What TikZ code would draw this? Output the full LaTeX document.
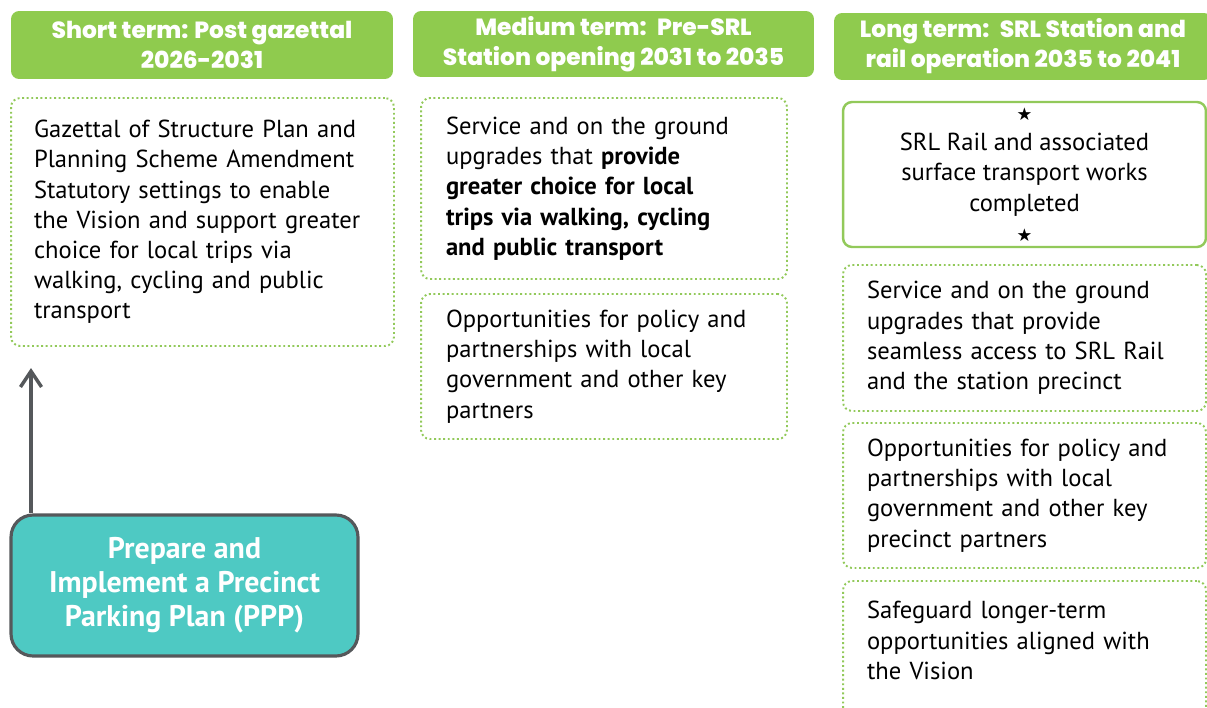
\documentclass[tikz,border=0pt]{standalone}
\usepackage{fontspec}
\setmainfont{PT Sans}
\newfontfamily\symfont{DejaVu Sans}
\IfFontExistsTF{Poppins ExtraBold}{\newfontfamily\headfont{Poppins ExtraBold}}{\newfontfamily\headfont{Poppins}[UprightFont=*-Bold]}
\usetikzlibrary{arrows.meta}
\definecolor{hdgreen}{HTML}{8FCB4E}
\definecolor{dotgreen}{HTML}{92C95A}
\definecolor{pppteal}{HTML}{4EC9C3}
\definecolor{darkgrey}{HTML}{55585B}
\tikzset{
	header/.style={fill=hdgreen, rounded corners=0.16cm, text=white, align=center, inner sep=0pt,
		font=\headfont\fontsize{13.3}{17}\selectfont},
	dotbox/.style={draw=dotgreen, line width=1.1pt, dash pattern=on 1.1pt off 1.5pt, rounded corners=0.18cm,
		align=left, inner sep=0pt, font=\fontsize{14}{17.2}\selectfont},
	solidbox/.style={draw=dotgreen, line width=1.4pt, rounded corners=0.18cm,
		align=center, inner sep=0pt, font=\fontsize{14}{17.2}\selectfont},
	pppbox/.style={draw=darkgrey, fill=pppteal, line width=1.8pt, rounded corners=0.44cm, text=white,
		align=center, inner sep=0pt, font=\bfseries\fontsize{17}{19.3}\selectfont}
}
\newcommand{\blackstar}{{\symfont\fontsize{10}{10}\selectfont ★}}

\begin{document}
\begin{tikzpicture}[x=0.02cm,y=-0.02cm]
	\useasboundingbox (0,0) rectangle (1207,707);
	\node[header, minimum width=7.64cm, minimum height=1.36cm] (short) at (202,45)
		{Short term: Post gazettal\\2026-2031};
	\node[header, minimum width=8.02cm, minimum height=1.32cm] (medium) at (613.5,44)
		{Medium term:~ Pre-SRL\\Station opening 2031 to 2035};
	\node[header, minimum width=7.56cm, minimum height=1.34cm] (long) at (1023,46.5)
		{Long term:~ SRL Station and\\rail operation 2035 to 2041};
	\node[dotbox, minimum width=7.66cm, minimum height=4.96cm, text width=6.74cm] (gazettal) at (202.5,222)
		{Gazettal of Structure Plan and\\Planning Scheme Amendment\\Statutory settings to enable\\the Vision and support greater\\choice for local trips via\\walking, cycling and public\\transport};
	\node[dotbox, minimum width=7.32cm, minimum height=3.62cm, text width=6.32cm] (choice) at (604,188.5)
		{Service and on the ground\\upgrades that \textbf{provide}\\\textbf{greater choice for local}\\\textbf{trips via walking, cycling}\\\textbf{and public transport}};
	\node[dotbox, minimum width=7.32cm, minimum height=2.9cm, text width=6.32cm] (policy) at (604,366.5)
		{Opportunities for policy and\\partnerships with local\\government and other key\\partners};
	\node[solidbox, minimum width=7.26cm, minimum height=2.9cm] (works) at (1024.5,174.5)
		{\blackstar\\SRL Rail and associated\\surface transport works\\completed\\\blackstar};
	\node[dotbox, minimum width=7.26cm, minimum height=2.92cm, text width=6.3cm] (access) at (1024.5,338)
		{Service and on the ground\\upgrades that provide\\seamless access to SRL Rail\\and the station precinct};
	\node[dotbox, minimum width=7.26cm, minimum height=2.9cm, text width=6.3cm] (partners) at (1024.5,495.5)
		{Opportunities for policy and\\partnerships with local\\government and other key\\precinct partners};
	\node[dotbox, minimum width=7.26cm, minimum height=2.98cm, text width=6.3cm] (safeguard) at (1024.5,655.5)
		{Safeguard longer-term\\opportunities aligned with\\the Vision\\\mbox{}};
	\node[pppbox, minimum width=6.94cm, minimum height=2.82cm] (ppp) at (184.5,585.5)
		{Prepare and\\Implement a Precinct\\Parking Plan (PPP)};
	\coordinate (tip) at (31,368);
	\draw[darkgrey, line width=2pt, -{Straight Barb[length=9pt,width=12pt]}] (tip |- ppp.north) -- (tip);
\end{tikzpicture}
\end{document}
